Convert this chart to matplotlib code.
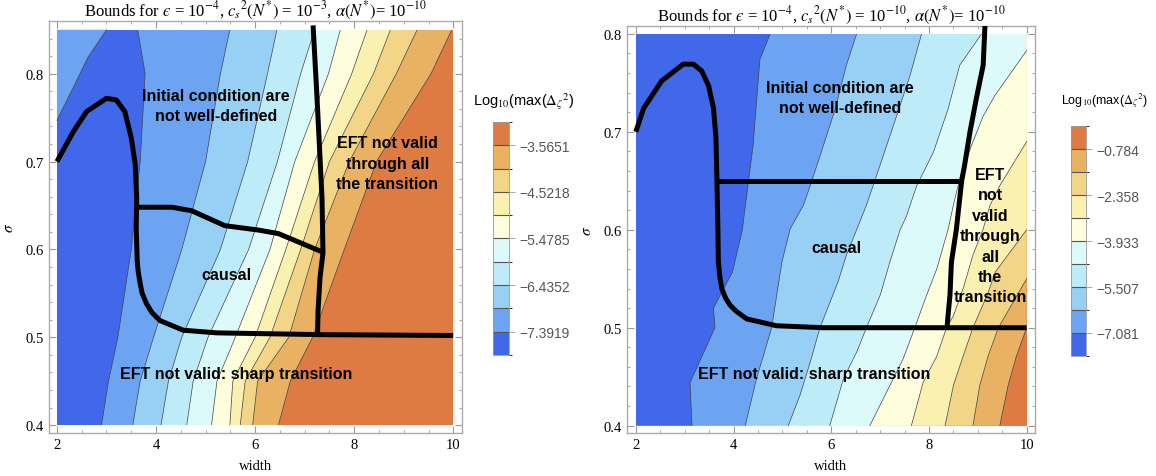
import numpy as np
import matplotlib.pyplot as plt
from matplotlib.colors import ListedColormap, BoundaryNorm
from matplotlib.patches import Rectangle
from matplotlib.cm import ScalarMappable
from matplotlib.ticker import MultipleLocator

plt.rcParams['font.family'] = ['Liberation Serif', 'DejaVu Serif']
plt.rcParams['mathtext.fontset'] = 'stix'

# band colours, low -> high
band_colors = ['#4068E8', '#6CA4F1', '#98CFF5', '#BEEBF8', '#DDFAFA',
               '#FEFEDC', '#FAF0B0', '#F2D587', '#E9B162', '#DE7B42']

# ---------- left panel data (cs^2 = 1e-3) ----------
sig_l = [0.40, 0.45, 0.50, 0.60, 0.70, 0.80, 0.85]
bounds_l = [
    [2.90, 3.04, 3.23, 3.50, 3.68, 3.78, 3.63],
    [3.53, 3.68, 3.95, 4.52, 5.00, 5.30, 5.49],
    [4.10, 4.25, 4.52, 5.30, 5.85, 6.25, 6.44],
    [4.62, 4.75, 5.05, 5.87, 6.45, 6.92, 7.20],
    [5.12, 5.23, 5.60, 6.30, 6.80, 7.48, 7.72],
    [5.49, 5.55, 6.00, 6.62, 7.20, 7.95, 8.26],
    [5.70, 5.80, 6.30, 6.92, 7.50, 8.39, 8.73],
    [5.95, 6.05, 6.68, 7.20, 7.90, 8.85, 9.27],
    [6.47, 6.71, 7.16, 7.80, 8.45, 9.55, 9.97],
]
corner_l_w = [2.0, 2.30, 2.63, 3.0]
corner_l_s = [0.747, 0.781, 0.819, 0.85]
levels_l = [-7.8703, -7.3919, -6.9136, -6.4352, -5.9569, -5.4785,
            -5.0002, -4.5218, -4.0435, -3.5651, -3.0868]

hump_l_w = [2.0, 2.33, 2.6, 3.0, 3.2, 3.37, 3.5, 3.58, 3.61, 3.60, 3.62,
            3.64, 3.68, 3.72, 3.81, 3.92, 4.08, 4.55, 5.23, 7.3, 10.0]
hump_l_s = [0.70, 0.734, 0.757, 0.772, 0.770, 0.757, 0.727, 0.697, 0.659,
            0.624, 0.587, 0.575, 0.561, 0.550, 0.538, 0.528, 0.519, 0.508,
            0.505, 0.503, 0.502]
top_l_w = [3.62, 4.32, 4.72, 5.39, 6.07, 6.47, 7.36]
top_l_s = [0.648, 0.648, 0.644, 0.627, 0.622, 0.618, 0.597]
eft_l_w = [7.17, 7.25, 7.35, 7.37, 7.31, 7.27, 7.26]
eft_l_s = [0.855, 0.772, 0.659, 0.596, 0.568, 0.530, 0.503]

# ---------- right panel data (cs^2 = 1e-10) ----------
bounds_r_w = [
    [3.15, 3.11, 3.62, 3.59, 3.98, 4.18, 4.40, 4.54, 4.75],
    [4.24, 4.47, 4.61, 4.78, 4.99, 5.16, 5.43, 5.57, 5.84, 6.08, 6.31, 6.52],
    [5.12, 5.36, 5.57, 5.77, 6.14, 6.31, 6.52, 6.72, 7.00, 7.27, 7.61, 7.85],
    [5.97, 6.25, 6.52, 6.72, 7.00, 7.20, 7.41, 7.54, 7.75, 8.09, 8.39, 8.63, 9.08],
    [6.79, 7.20, 7.47, 7.71, 7.95, 8.16, 8.39, 8.50, 8.63, 8.87, 9.11, 9.35, 10.0],
    [7.64, 7.88, 8.16, 8.36, 8.50, 8.70, 8.90, 9.11, 9.25, 9.45, 10.0],
    [8.33, 8.50, 8.70, 8.90, 9.19, 9.36, 10.0],
    [8.90, 9.04, 9.21, 9.42, 10.0],
    [9.45, 9.62, 9.79, 10.0],
]
bounds_r_s = [
    [0.40, 0.444, 0.50, 0.52, 0.557, 0.60, 0.686, 0.774, 0.80],
    [0.40, 0.448, 0.471, 0.50, 0.567, 0.601, 0.625, 0.645, 0.686, 0.723, 0.768, 0.80],
    [0.40, 0.431, 0.465, 0.50, 0.547, 0.574, 0.60, 0.625, 0.666, 0.706, 0.757, 0.80],
    [0.40, 0.448, 0.475, 0.50, 0.533, 0.567, 0.60, 0.614, 0.645, 0.679, 0.723, 0.768, 0.80],
    [0.40, 0.441, 0.468, 0.50, 0.533, 0.56, 0.60, 0.625, 0.652, 0.686, 0.716, 0.737, 0.783],
    [0.40, 0.444, 0.471, 0.50, 0.512, 0.54, 0.574, 0.601, 0.625, 0.645, 0.69],
    [0.40, 0.441, 0.471, 0.50, 0.533, 0.557, 0.60],
    [0.40, 0.441, 0.471, 0.50, 0.55],
    [0.40, 0.441, 0.471, 0.50],
]
levels_r = [-7.868, -7.081, -6.294, -5.507, -4.720, -3.933,
            -3.146, -2.358, -1.571, -0.784, 0.003]

hump_r_w = [2.0, 2.16, 2.53, 2.97, 3.18, 3.35, 3.49, 3.59, 3.64, 3.66, 3.68,
            3.69, 3.72, 3.76, 3.84, 3.93, 4.05, 4.27, 4.88, 5.84, 10.0]
hump_r_s = [0.70, 0.724, 0.752, 0.769, 0.769, 0.762, 0.747, 0.724, 0.694,
            0.651, 0.60, 0.567, 0.552, 0.540, 0.530, 0.523, 0.517, 0.509,
            0.502, 0.50, 0.50]
top_r_w = [3.66, 8.68]
top_r_s = [0.650, 0.650]
eft_r_w = [9.15, 9.11, 8.97, 8.84, 8.73, 8.67, 8.56, 8.46, 8.43, 8.39, 8.37]
eft_r_s = [0.812, 0.768, 0.734, 0.700, 0.666, 0.650, 0.600, 0.567,
           0.533, 0.512, 0.50]

cmap = ListedColormap(band_colors)
sans = ['Liberation Sans', 'DejaVu Sans']


def draw_panel(ax, bw, bs, smin, smax):
    clip = Rectangle((2, smin), 8, smax - smin, transform=ax.transData)
    ax.fill([2, 10, 10, 2], [smin, smin, smax, smax],
            color=band_colors[-1], lw=0, zorder=1)
    for k in reversed(range(len(bw))):
        px = [2] + list(bw[k]) + [10, 2]
        py = [smin] + list(bs[k]) + [smax, smax]
        p = ax.fill(px, py, color=band_colors[k], lw=0, zorder=1)
        p[0].set_clip_path(clip)
    for k in range(len(bw)):
        ln = ax.plot(bw[k], bs[k], color='#444444', lw=0.5, zorder=2)
        ln[0].set_clip_path(clip)
    return clip


def style_axes(ax, xlim, ylim):
    ax.set_xlim(*xlim)
    ax.set_ylim(*ylim)
    ax.xaxis.set_major_locator(MultipleLocator(2))
    ax.xaxis.set_minor_locator(MultipleLocator(0.5))
    ax.yaxis.set_major_locator(MultipleLocator(0.1))
    ax.yaxis.set_minor_locator(MultipleLocator(0.02))
    ax.tick_params(which='both', direction='in', top=True, right=True,
                   color='#999999', labelsize=10.5)
    ax.tick_params(which='major', length=5)
    ax.tick_params(which='minor', length=2.5)
    for sp in ax.spines.values():
        sp.set_color('#aaaaaa')
        sp.set_linewidth(1)
    ax.set_xlabel('width', fontsize=10.5, labelpad=6)
    ax.set_ylabel(r'$\sigma$', fontsize=11, labelpad=7)


def add_cbar(fig, rect, levels, title, title_xy, title_size):
    cax = fig.add_axes(rect)
    norm = BoundaryNorm(levels, cmap.N)
    cb = fig.colorbar(ScalarMappable(norm=norm, cmap=cmap), cax=cax,
                      drawedges=True, ticks=levels[1::2])
    cb.dividers.set_color('#555555')
    cb.dividers.set_linewidth(0.8)
    cb.outline.set_edgecolor('#999999')
    cb.outline.set_linewidth(0.6)
    cb.ax.set_yticklabels([('%g' % v).replace('-', '\u2212') for v in levels[1::2]])
    cb.ax.tick_params(length=4, width=0.6, color='#999999', labelcolor='#555555',
                      labelsize=10)
    for t in cb.ax.get_yticklabels():
        t.set_family(sans)
    fig.text(title_xy[0], title_xy[1], title, ha='center', va='center',
             fontsize=title_size, family=sans)


eps = '$\u03f5$'
fig = plt.figure(figsize=(11.56, 4.77), dpi=100)

# left panel
ax1 = fig.add_axes([0.0424, 0.0901, 0.357, 0.8638])
draw_panel(ax1, bounds_l, [sig_l] * len(bounds_l), 0.40, 0.85)
ax1.fill(corner_l_w + [2.0], corner_l_s + [0.85], color=band_colors[1], lw=0, zorder=1)
ax1.plot(corner_l_w, corner_l_s, color='#444444', lw=0.5, zorder=2)
for w, s in [(hump_l_w, hump_l_s), (top_l_w, top_l_s), (eft_l_w, eft_l_s)]:
    ax1.plot(w, s, color='black', lw=3.6, solid_capstyle='butt', zorder=3)
style_axes(ax1, (1.84, 10.17), (0.391, 0.86))
ax1.set_title('Bounds for ' + eps + r' = 10$^{-4}$, $c_s{}^2(N^{*})$ = 10$^{-3}$, '
              r'$\alpha(N^{*})$= 10$^{-10}$', fontsize=12, pad=3)
tk = dict(family=sans, weight='bold', fontsize=11.5, ha='center', va='center', zorder=4)
ax1.text(5.21, 0.764, 'Initial condition are\nnot well\u2010defined', linespacing=1.4, **tk)
ax1.text(8.67, 0.698, 'EFT not valid\nthrough all\nthe transition', linespacing=1.45, **tk)
ax1.text(5.43, 0.572, 'causal', **tk)
ax1.text(5.62, 0.459, 'EFT not valid: sharp transition', **tk)

# right panel
ax2 = fig.add_axes([0.5424, 0.0901, 0.3529, 0.8533])
draw_panel(ax2, bounds_r_w, bounds_r_s, 0.40, 0.80)
for w, s in [(hump_r_w, hump_r_s), (top_r_w, top_r_s), (eft_r_w, eft_r_s)]:
    ax2.plot(w, s, color='black', lw=3.6, solid_capstyle='butt', zorder=3)
style_axes(ax2, (1.82, 10.17), (0.3925, 0.808))
ax2.set_title('Bounds for ' + eps + r' = 10$^{-4}$, $c_s{}^2(N^{*})$ = 10$^{-10}$, '
              r'$\alpha(N^{*})$= 10$^{-10}$', fontsize=12, pad=3)
ax2.text(6.18, 0.735, 'Initial condition are\nnot well\u2010defined', linespacing=1.4, **tk)
ax2.text(9.25, 0.594, 'EFT\nnot\nvalid\nthrough\nall\nthe\ntransition', linespacing=1.45, **tk)
ax2.text(6.11, 0.582, 'causal', **tk)
ax2.text(5.65, 0.453, 'EFT not valid: sharp transition', **tk)

cb_title = r'Log$_{10}$(max($\Delta_{\zeta}{}^{2}$)'
add_cbar(fig, [0.4265, 0.2537, 0.0138, 0.4885], levels_l, cb_title, (0.4533, 0.786), 10.5)
add_cbar(fig, [0.9265, 0.2516, 0.0130, 0.4820], levels_r, cb_title, (0.9555, 0.790), 9)

fig.savefig('out.png', dpi=100)
